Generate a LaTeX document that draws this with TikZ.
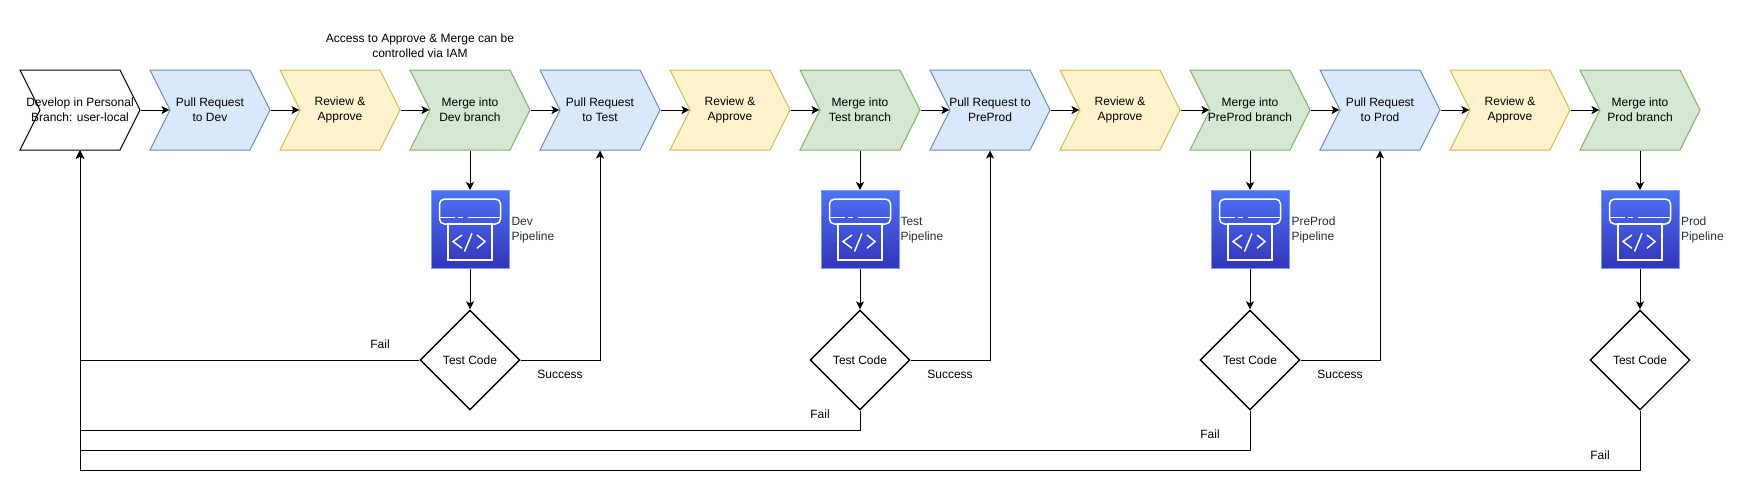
\documentclass[tikz,border=0pt]{standalone}
\usepackage{xcolor}
\usepackage{fontspec}
\setmainfont{Liberation Sans}
\usepackage{tikz}
\usetikzlibrary{positioning, shapes.geometric, shapes.symbols, arrows.meta}
\definecolor{blueback}{HTML}{DAE8FC}
\definecolor{blueline}{HTML}{6C8EBF}
\definecolor{yellowback}{HTML}{FFF2CC}
\definecolor{yellowline}{HTML}{D6B656}
\definecolor{greenback}{HTML}{D5E8D4}
\definecolor{greenline}{HTML}{82B366}
\definecolor{icontop}{HTML}{4D72F3}
\definecolor{iconbottom}{HTML}{3334B9}
\definecolor{iconline}{HTML}{7F9BF0}
\definecolor{awstext}{HTML}{232F3E}

\begin{document}
\begin{tikzpicture}[x=1pt, y=-1pt, line width=1pt, font=\fontsize{12}{15}\selectfont,
            chevron/.style={shape=signal, signal to=east, signal from=west, signal pointer angle=126.87,
                minimum width=120pt, minimum height=80pt, inner sep=0pt, align=center, draw},
            pullreq/.style={chevron, fill=blueback, draw=blueline},
            review/.style={chevron, fill=yellowback, draw=yellowline},
            merge/.style={chevron, fill=greenback, draw=greenline},
            pipeline/.style={rectangle, minimum size=78pt, inner sep=0pt, top color=icontop, bottom color=iconbottom, draw=iconline},
            testcode/.style={diamond, draw, line width=1.4pt, minimum width=100pt, minimum height=100pt, inner sep=0pt},
            plainlabel/.style={inner sep=0pt, align=center},
            pipelabel/.style={inner sep=0pt, anchor=west, align=left, text=awstext},
            flow/.style={-{Stealth[length=8pt, width=8pt, inset=2pt]}},
            icon/.pic={
                \draw[white, line width=1.5pt, rounded corners=5pt] (-30.5,-30.5) rectangle (30.5,-5.5);
                \draw[white, line width=1.5pt] (-30,-12) -- (-15.5,-12) (-12.5,-12) -- (-7.5,-12) (-2.5,-12) -- (30,-12);
                \draw[white, line width=1.5pt] (-22,-5.5) rectangle (22,30.5);
                \draw[white, line width=1.5pt] (-8,5.5) -- (-17,12) -- (-8,18.8) (7,5.5) -- (15,12) -- (7,18.8) (-5.5,22) -- (2,3.8);
            }]
            \useasboundingbox (0,0) rectangle (1745,499);

            % top row
            \node[chevron] (develop) at (80,110) {\clap{Develop in Personal}\\\clap{Branch: user-local}};
            \node[pullreq] (pr1) at (210,110) {Pull Request\\to Dev};
            \node[review] (rv1) at (340,110) {Review \&\\Approve};
            \node[merge] (mg1) at (470,110) {Merge into\\Dev branch};
            \node[pullreq] (pr2) at (600,110) {Pull Request\\to Test};
            \node[review] (rv2) at (730,110) {Review \&\\Approve};
            \node[merge] (mg2) at (860,110) {Merge into\\Test branch};
            \node[pullreq] (pr3) at (990,110) {\clap{Pull Request to}\\PreProd};
            \node[review] (rv3) at (1120,110) {Review \&\\Approve};
            \node[merge] (mg3) at (1250,110) {Merge into\\\clap{PreProd branch}};
            \node[pullreq] (pr4) at (1380,110) {Pull Request\\to Prod};
            \node[review] (rv4) at (1510,110) {Review \&\\Approve};
            \node[merge] (mg4) at (1640,110) {Merge into\\Prod branch};

            % pipelines
            \node[pipeline] (pp1) at (470,229.5) {};
            \node[pipeline] (pp2) at (860,229.5) {};
            \node[pipeline] (pp3) at (1250,229.5) {};
            \node[pipeline] (pp4) at (1640,229.5) {};
            \pic at (pp1) {icon};
            \pic at (pp2) {icon};
            \pic at (pp3) {icon};
            \pic at (pp4) {icon};

            % tests
            \node[testcode] (tc1) at (470,360) {Test Code};
            \node[testcode] (tc2) at (860,360) {Test Code};
            \node[testcode] (tc3) at (1250,360) {Test Code};
            \node[testcode] (tc4) at (1640,360) {Test Code};

            % labels
            \node[plainlabel] (access) at (420,46) {Access to Approve \& Merge can be\\controlled via IAM};
            \node[pipelabel] (pl1) at (511,230) {Dev\\Pipeline};
            \node[pipelabel] (pl2) at (900,230) {Test\\Pipeline};
            \node[pipelabel] (pl3) at (1291,230) {PreProd\\Pipeline};
            \node[pipelabel] (pl4) at (1680.5,230) {Prod\\Pipeline};
            \node[plainlabel] (ok1) at (560,374.5) {Success};
            \node[plainlabel] (ok2) at (950,374.5) {Success};
            \node[plainlabel] (ok3) at (1340,374.5) {Success};
            \node[plainlabel] (no1) at (380,344) {Fail};
            \node[plainlabel] (no2) at (820,414.5) {Fail};
            \node[plainlabel] (no3) at (1210,434.5) {Fail};
            \node[plainlabel] (no4) at (1600,455) {Fail};

            \coordinate (back2) at (80,430);
            \coordinate (back3) at (80,450);
            \coordinate (back4) at (80,470);

            \draw[flow] (develop.east)--(pr1.west);
            \draw[flow] (pr1.east)--(rv1.west);
            \draw[flow] (rv1.east)--(mg1.west);
            \draw[flow] (mg1.east)--(pr2.west);
            \draw[flow] (pr2.east)--(rv2.west);
            \draw[flow] (rv2.east)--(mg2.west);
            \draw[flow] (mg2.east)--(pr3.west);
            \draw[flow] (pr3.east)--(rv3.west);
            \draw[flow] (rv3.east)--(mg3.west);
            \draw[flow] (mg3.east)--(pr4.west);
            \draw[flow] (pr4.east)--(rv4.west);
            \draw[flow] (rv4.east)--(mg4.west);

            \draw[flow] (mg1.south)--(pp1.north);
            \draw[flow] (mg2.south)--(pp2.north);
            \draw[flow] (mg3.south)--(pp3.north);
            \draw[flow] (mg4.south)--(pp4.north);
            \draw[flow] (pp1.south)--(tc1.north);
            \draw[flow] (pp2.south)--(tc2.north);
            \draw[flow] (pp3.south)--(tc3.north);
            \draw[flow] (pp4.south)--(tc4.north);

            \draw[flow] (tc1.east)-|(pr2.south);
            \draw[flow] (tc2.east)-|(pr3.south);
            \draw[flow] (tc3.east)-|(pr4.south);

            \draw[flow] (tc1.west)-|(develop.south);
            \draw[flow] (tc2.south)|-(back2)--(develop.south);
            \draw[flow] (tc3.south)|-(back3)--(develop.south);
            \draw[flow] (tc4.south)|-(back4)--(develop.south);
\end{tikzpicture}
\end{document}
